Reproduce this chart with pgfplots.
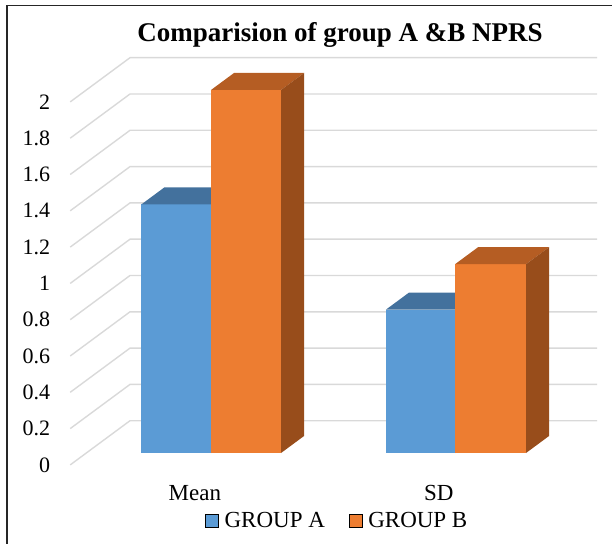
\documentclass[border=0pt]{standalone}
\usepackage{pgfplots}
\pgfplotsset{compat=1.18}
\usepackage{fontspec}
\setmainfont{Liberation Serif}

\definecolor{grpA}{RGB}{91,155,213}
\definecolor{grpAtop}{RGB}{67,113,157}
\definecolor{grpAside}{RGB}{55,94,131}
\definecolor{grpB}{RGB}{237,125,49}
\definecolor{grpBtop}{RGB}{181,93,35}
\definecolor{grpBside}{RGB}{152,77,27}
\definecolor{gridc}{RGB}{217,217,217}

% one 3-D column: #1 left x, #2 right x, #3 value, #4 colour stem
\newcommand{\column}[4]{%
  \addplot3[fill=#4, draw=none, forget plot] coordinates {(#1,0,0) (#2,0,0) (#2,0,#3) (#1,0,#3)};
  \addplot3[fill=#4top, draw=none, forget plot] coordinates {(#1,0,#3) (#2,0,#3) (#2,1,#3) (#1,1,#3)};
  \addplot3[fill=#4side, draw=none, forget plot] coordinates {(#2,0,0) (#2,1,0) (#2,1,#3) (#2,0,#3)};
}

\begin{document}
\begin{tikzpicture}
\begin{axis}[
  x={(244pt,0pt)}, y={(23pt,17pt)}, z={(0pt,181.5pt)},
  xmin=-0.6, xmax=1.45, ymin=-0.7, ymax=1.9, zmin=0, zmax=2,
  hide axis, clip=false,
  legend image code/.code={\fill[#1] (0pt,-6.5pt) rectangle (13pt,6.5pt);},
  legend style={at={(axis cs:-0.0246,0,-0.3747)}, anchor=west, draw=none, fill=none,
    inner sep=0pt, legend columns=2,
    font=\fontsize{23}{23}\selectfont,
    nodes={inner sep=0pt},
    /tikz/every odd column/.append style={column sep=6pt},
    /tikz/every even column/.append style={column sep=24pt}},
  legend entries={GROUP A, GROUP B},
]
\addlegendimage{fill=grpA}
\addlegendimage{fill=grpB}

% back wall and side wall gridlines
\pgfplotsinvokeforeach{0,0.2,0.4,0.6,0.8,1,1.2,1.4,1.6,1.8,2}{
  \draw[gridc, line width=1.4pt] (axis cs:-0.511,-0.7,#1) -- (axis cs:-0.511,1.9,#1) -- (axis cs:1.403,1.9,#1);
  \node[anchor=east, inner sep=0pt, xshift=-20pt, font=\fontsize{22}{22}\selectfont]
    at (axis cs:-0.511,-0.7,#1) {#1};
}

% Mean: group A 1.37, group B 2.0 ; SD: group A 0.79, group B 1.04
\column{-0.285}{0}{1.37}{grpA}
\column{0}{0.287}{2.0}{grpB}
\column{0.717}{1}{0.79}{grpA}
\column{1}{1.291}{1.04}{grpB}

\node[anchor=base, yshift=-36pt, font=\fontsize{23}{23}\selectfont] at (axis cs:0,-0.7,0) {Mean};
\node[anchor=base, yshift=-36pt, font=\fontsize{23}{23}\selectfont] at (axis cs:1,-0.7,0) {SD};

\node[anchor=base, font=\bfseries\fontsize{27}{27}\selectfont] at (axis cs:0.5287,0,2.2645)
  {Comparision of group A \&B NPRS};

% outer frame
\draw[black!85, line width=1.8pt] (axis cs:-0.836,0,-0.5) -- (axis cs:-0.836,0,2.4656) -- (axis cs:1.66,0,2.4656);

\coordinate (O) at (axis cs:0,0,0);
\end{axis}
\pgfresetboundingbox
\path (O) ++(-211pt,-90pt) rectangle ++(612pt,543pt);
\end{tikzpicture}
\end{document}
